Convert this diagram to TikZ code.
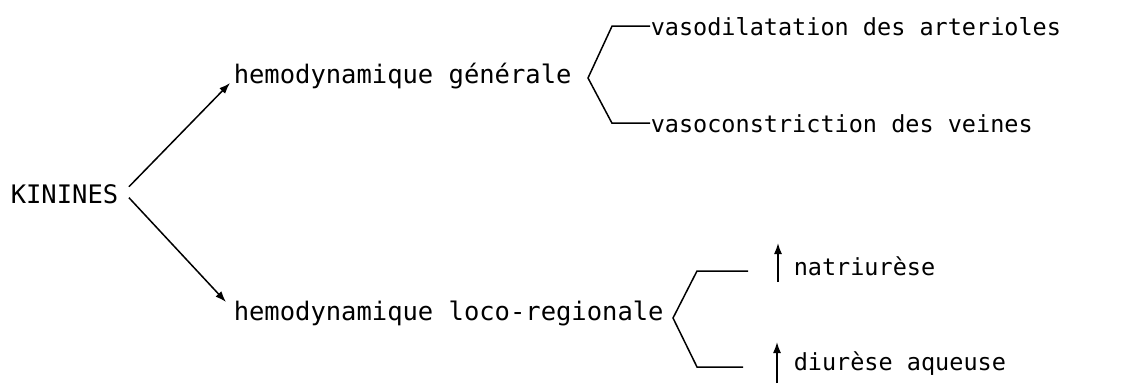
\documentclass[tikz,border=0pt]{standalone}
\usepackage{fontspec}
\usetikzlibrary{arrows.meta}
\newfontfamily\typefont{DejaVu Sans Mono}

\begin{document}
\begin{tikzpicture}[x=1pt, y=-1pt, line width=1.5pt,
    word/.style={inner sep=0pt, anchor=base west, font=\typefont\fontsize{25.5}{30}\selectfont},
    subword/.style={inner sep=0pt, anchor=base west, font=\typefont\fontsize{23.5}{28}\selectfont},
    arr/.style={-{Latex[length=11pt,width=8pt]}}]
    \useasboundingbox (0,0) rectangle (1134,383);

    \node (kinines) [word] at (10,203) {KININES};
    \node (gen) [word] at (233,83) {hemodynamique générale};
    \node (loco) [word] at (233,320) {hemodynamique loco-regionale};
    \node (vaso1) [subword] at (650,35) {vasodilatation des arterioles};
    \node (vaso2) [subword] at (650,132) {vasoconstriction des veines};
    \node (natri) [subword] at (793,275) {natriurèse};
    \node (diur) [subword] at (793,370) {diurèse aqueuse};

    % bracket corners and free ends
    \coordinate (gtip) at (588,78);
    \coordinate (gcorner) at (612,78);
    \coordinate (ltip) at (673,318);
    \coordinate (ltop) at (748,271);
    \coordinate (lbot) at (743,367);
    \coordinate (nlow) at (778,282);
    \coordinate (nhigh) at (778,243);
    \coordinate (dlow) at (777,383);
    \coordinate (dhigh) at (777,342);

    \draw[arr] ([xshift=10pt,yshift=7pt]kinines.east) -- ([xshift=-3pt]gen.base west);
    \draw[arr] ([xshift=10pt,yshift=-4pt]kinines.east) -- ([xshift=-7pt,yshift=18pt]loco.base west);

    \draw (vaso1.west) -- (gcorner |- vaso1.west) -- (gtip) -- (gcorner |- vaso2.west) -- (vaso2.west);
    \draw (ltop) -| (697,271) -- (ltip) -- (697,367) -- (lbot);

    \draw[arr] (nlow) -- (nhigh);
    \draw[arr] (dlow) -- (dhigh);
\end{tikzpicture}
\end{document}
